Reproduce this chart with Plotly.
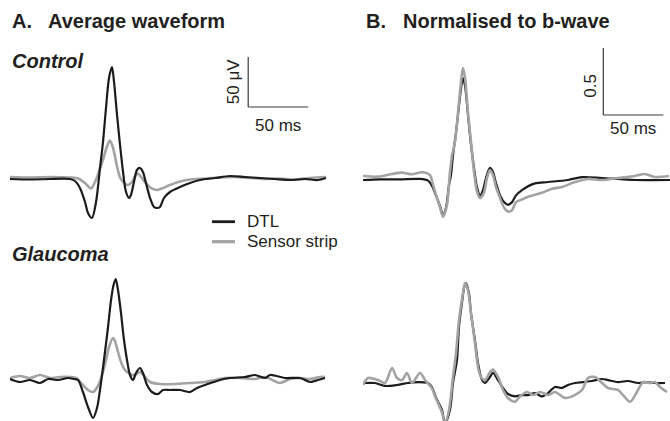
import plotly.graph_objects as go

# ---------------- data (time in ms, amplitude in µV for A, normalised for B) ----------------
# Panel A, Control
a_ctl_dtl_t = [0, 16.7, 33.3, 50, 54.2, 58.3, 62.5, 65, 68.3, 71.7, 75, 77.5, 80, 82.5, 85, 86.7, 89.2, 91.7, 94.2,
               96.7, 99.2, 100.8, 103.3, 105.8, 108.3, 110.8, 113.3, 116.7, 120, 122.5, 125, 128.3, 133.3, 141.7,
               150, 158.3, 170.8, 183.3, 195.8, 208.3, 220.8, 233.3, 245.8, 256.7, 263.3]
a_ctl_dtl_v = [-0.5, -1, -0.5, -0.5, -2.5, -9.5, -23.5, -34.5, -39.5, -23.5, 10.5, 36.5, 70.5, 100.5, 111.5, 96.5,
               63.5, 33.5, 6.5, -13.5, -19.5, -16.5, -3.5, 8.5, 10.5, 6.5, -4.5, -19.5, -28.5, -29.5, -28.5, -19.5,
               -13.5, -8.5, -4.5, -1.5, 0.5, 2.5, 1.5, 0.5, -0.5, -1.5, -0.5, -1.5, 0.5]
a_ctl_ss_t = [0, 16.7, 33.3, 50, 56.7, 62.5, 67.5, 71.7, 75, 78.3, 80.8, 83.3, 85.8, 89.2, 91.7, 95, 98.3, 101.7,
              104.2, 106.7, 109.2, 113.3, 117.5, 122.5, 127.5, 133.3, 141.7, 150, 162.5, 175, 187.5, 200, 212.5,
              225, 237.5, 250, 263.3]
a_ctl_ss_v = [1.5, 1, 1.5, 1, 0, -4.5, -10, -1, 10, 22, 32, 38, 31, 12, 1, -4.5, -6.5, -3.5, 2, 5, 1.5, -4.5, -9.5,
              -11.5, -9.5, -6.5, -3, -1, 0, 1, 1.5, 0.5, -0.5, 0, -1, 0.5, 1.5]

# Panel A, Glaucoma
a_gl_dtl_t = [0, 8.3, 16.7, 25, 31.7, 40, 48.3, 53.3, 56.7, 60.8, 65, 69.2, 72.5, 75, 78.3, 81.7, 84.2, 86.3, 88.1,
              90, 92.5, 95, 97.5, 100, 102.5, 105, 108.3, 110.8, 114.2, 118.3, 123.3, 127.5, 133.3, 141.7, 150,
              155.8, 162.5, 175, 183.3, 195.8, 204.2, 212.5, 216.7, 229.2, 241.7, 250, 256.7, 262.5]
a_gl_dtl_v = [-1, -4, -2, -5, -1, -2, 0, -1, -2, -14, -29, -40, -30, -12, 18, 51, 78, 93, 99, 88, 65, 38, 18, 3, -2,
              5, 10, 5, -7, -14, -16, -12, -12, -12, -14, -10, -7, -2, 0, 1, 3, 0, 3, 0, 0, -4, -2, 0]
a_gl_ss_t = [0, 8.3, 16.7, 25, 33.3, 41.7, 50, 55, 60, 65, 69.2, 73.3, 76.7, 80, 82.5, 85.8, 87.5, 90, 92.5, 95.8,
             100, 104.2, 108.3, 112.5, 116.7, 125, 137.5, 150, 162.5, 170.8, 179.2, 191.7, 204.2, 212.5, 225,
             233.3, 241.7, 250, 258.3, 262.5]
a_gl_ss_v = [0, 2, 0, 3, 0, 1, 1, 0, -6, -12, -14, -8, 3, 18, 31, 40, 37, 26, 16, 8, 4, 3, 6, 1, -4, -6, -6, -5, -4,
             -2, 0, 0, -1, 1, -5, -1, 0, -1, 1, 1]

# Panel B, Control (normalised to b-wave)
b_ctl_dtl_t = [0, 14.2, 30.8, 47.5, 54.2, 57.5, 60.8, 64.2, 66.7, 69.2, 71.7, 73.3, 75, 77.5, 80, 81.7, 83.3, 85,
               87.5, 90, 92.5, 95, 97.5, 100, 102.5, 105.8, 108.3, 110.8, 114.2, 117.5, 120.8, 124.2, 127.5, 132.5,
               143.3, 154.2, 170.8, 182.5, 199.2, 226.7, 255.8]
b_ctl_dtl_v = [-0.015, -0.01, -0.01, -0.007, -0.02, -0.06, -0.13, -0.21, -0.276, -0.22, -0.05, 0.02, 0.17, 0.34,
               0.54, 0.67, 0.746, 0.69, 0.47, 0.25, 0.075, -0.07, -0.13, -0.09, 0, 0.075, 0.045, -0.037, -0.13,
               -0.18, -0.2, -0.18, -0.13, -0.09, -0.04, -0.03, -0.015, 0.007, 0, -0.015, -0.015]
b_ctl_ss_t = [0, 12.5, 24.2, 32.5, 40.8, 49.2, 55.8, 58.3, 61.7, 64.2, 66.7, 70, 72.5, 74.2, 76.7, 79.2, 81.7, 83.3,
              85, 87.5, 90, 92.5, 95, 97.5, 100.8, 103.3, 105.8, 108.3, 110.8, 114.2, 117.5, 120.8, 124.2, 127.5,
              132.5, 137.5, 149.2, 157.5, 165.8, 176.7, 187.5, 199.2, 212.5, 226.7, 235, 243.3, 255]
b_ctl_ss_v = [0.017, 0.01, 0.03, 0.04, 0.028, 0.043, 0.022, -0.05, -0.15, -0.22, -0.29, -0.2, 0.045, 0.17, 0.27,
              0.49, 0.72, 0.82, 0.75, 0.49, 0.27, 0.045, -0.1, -0.15, -0.11, 0, 0.06, 0.022, -0.067, -0.15, -0.22,
              -0.25, -0.24, -0.18, -0.16, -0.14, -0.11, -0.08, -0.067, -0.03, -0.007, -0.015, 0, 0.015, 0.03, 0.007,
              0.015]

# Panel B, Glaucoma
b_gl_dtl_t = [0, 10, 18.3, 28.3, 37.5, 45.8, 54.2, 57.5, 60, 62.5, 65.8, 68.3, 72.5, 75, 78.3, 80, 82.5, 84.2, 85.8,
              88.3, 90, 93.3, 95.8, 99.2, 101.7, 105.8, 108.3, 112.5, 116.7, 120.8, 126.7, 132.5, 137.5, 143.3,
              149.2, 154.2, 160, 165.8, 170.8, 176.7, 183.3, 190.8, 199.2, 204.2, 212.5, 220.8, 229.2, 236.7,
              243.3, 251.7]
b_gl_dtl_v = [0, 0, -0.022, -0.015, 0, 0.007, 0, -0.03, -0.09, -0.14, -0.2, -0.3, -0.2, 0, 0.17, 0.42, 0.6, 0.71,
              0.746, 0.67, 0.52, 0.32, 0.15, 0.022, 0, 0.045, 0.075, 0.022, -0.037, -0.082, -0.1, -0.09, -0.09,
              -0.075, -0.1, -0.075, -0.03, -0.037, -0.015, 0, 0.007, 0.015, 0.03, 0.022, 0.007, 0.015, 0, 0.007, 0, 0]
b_gl_ss_t = [0, 4.2, 12.5, 18.3, 24.2, 28.3, 32.5, 36.7, 40.8, 47.5, 51.7, 57.5, 60, 62.5, 65.8, 68.3, 71.7, 75,
             77.5, 80, 83.3, 85, 87.5, 90, 93.3, 95.8, 98.3, 101.7, 105.8, 108.3, 112.5, 116.7, 120.8, 126.7, 130.8,
             136.7, 141.7, 147.5, 154.2, 160, 168.3, 174.2, 182.5, 187.5, 193.3, 199.2, 204.2, 212.5, 216.7, 222.5,
             228.3, 233.3, 239.2, 243.3, 247.5, 253.3]
b_gl_ss_v = [-0.015, 0.037, 0.022, 0, 0.112, 0.037, 0.022, 0.075, 0, 0.075, 0.022, -0.04, -0.1, -0.15, -0.22, -0.3,
             -0.2, 0.045, 0.22, 0.47, 0.67, 0.746, 0.69, 0.52, 0.3, 0.12, 0.045, 0.022, 0.082, 0.1, 0.045, -0.052,
             -0.112, -0.14, -0.1, -0.067, -0.09, -0.067, -0.09, -0.067, -0.112, -0.1, -0.052, 0.037, 0.045, 0,
             -0.037, -0.052, -0.09, -0.14, -0.067, 0.007, 0, 0.007, -0.03, -0.067]

series_names = ["DTL", "Sensor strip"]
panel_titles = ["A.", "Average waveform", "B.", "Normalised to b-wave"]
group_labels = ["Control", "Glaucoma"]
scale_a_labels = ["50 μV", "50 ms"]
scale_b_labels = ["0.5", "50 ms"]

# ---------------- styling ----------------
W, H = 670, 421
BLACK = "#1c1c1c"
GREY = "#a3a3a3"
TXT = "#231f20"
FONT = "Liberation Sans, Arial, sans-serif"
COLORS = [BLACK, GREY]
WIDTHS = [2.2, 2.6]


def px(x):
    return x / W


def py(y):
    return 1 - y / H


fig = go.Figure()

def add(ax, t, v, k):
    fig.add_trace(go.Scatter(
        x=t, y=v, mode="lines", name=series_names[k], xaxis="x" + ax, yaxis="y" + ax,
        line=dict(color=COLORS[k], width=WIDTHS[k], shape="spline", smoothing=0.8),
        showlegend=False, hoverinfo="skip"))

# Panel A: black on top
add("", a_ctl_ss_t, a_ctl_ss_v, 1)
add("", a_ctl_dtl_t, a_ctl_dtl_v, 0)
add("3", a_gl_ss_t, a_gl_ss_v, 1)
add("3", a_gl_dtl_t, a_gl_dtl_v, 0)
# Panel B: grey on top
add("2", b_ctl_dtl_t, b_ctl_dtl_v, 0)
add("2", b_ctl_ss_t, b_ctl_ss_v, 1)
add("4", b_gl_dtl_t, b_gl_dtl_v, 0)
add("4", b_gl_ss_t, b_gl_ss_v, 1)

PXMS = 1.2  # pixels per ms
A_UV = 1.0  # pixels per µV
B_UNIT = 134.0  # pixels per normalised unit

def xax(x0):
    right = W if x0 > 300 else 333
    return dict(domain=[px(x0), px(right)], range=[0, (right - x0) / PXMS], visible=False, fixedrange=True)

def yax(top, bottom, base, scale):
    return dict(domain=[py(bottom), py(top)], range=[(base - bottom) / scale, (base - top) / scale],
                visible=False, fixedrange=True)

fig.update_layout(
    width=W, height=H, margin=dict(l=0, r=0, t=0, b=0),
    paper_bgcolor="white", plot_bgcolor="rgba(0,0,0,0)",
    xaxis=xax(10), yaxis=yax(48, 224, 178.5, A_UV),
    xaxis2=dict(xax(363), anchor="y2"), yaxis2=dict(yax(45, 224, 178, B_UNIT), anchor="x2"),
    xaxis3=dict(xax(10), anchor="y3"), yaxis3=dict(yax(262, 421, 378, A_UV), anchor="x3"),
    xaxis4=dict(xax(363), anchor="y4"), yaxis4=dict(yax(262, 421, 383, B_UNIT), anchor="x4"),
    showlegend=False,
    font=dict(family=FONT, color=TXT),
)

# scale bars (in data units)
bar_col = "#3a3a3a"
ta = 198.5
va = 71.5
fig.add_shape(type="line", xref="x", yref="y", x0=ta, x1=ta, y0=va, y1=va + 50, line=dict(color=bar_col, width=1.2))
fig.add_shape(type="line", xref="x", yref="y", x0=ta, x1=ta + 50, y0=va, y1=va, line=dict(color=bar_col, width=1.2))
fig.add_annotation(xref="x", yref="y", x=ta - 12.5, y=va + 25, text=scale_a_labels[0], textangle=-90,
                   showarrow=False, font=dict(size=17, color=TXT), xanchor="center", yanchor="middle")
fig.add_annotation(xref="x", yref="y", x=ta + 25, y=va - 18, text=scale_a_labels[1],
                   showarrow=False, font=dict(size=17, color=TXT), xanchor="center", yanchor="middle")

tb = 200.25
vb = 0.47
fig.add_shape(type="line", xref="x2", yref="y2", x0=tb, x1=tb, y0=vb, y1=vb + 0.5, line=dict(color=bar_col, width=1.2))
fig.add_shape(type="line", xref="x2", yref="y2", x0=tb, x1=tb + 50, y0=vb, y1=vb, line=dict(color=bar_col, width=1.2))
fig.add_annotation(xref="x2", yref="y2", x=tb - 11, y=vb + 0.22, text=scale_b_labels[0], textangle=-90,
                   showarrow=False, font=dict(size=17, color=TXT), xanchor="center", yanchor="middle")
fig.add_annotation(xref="x2", yref="y2", x=tb + 25, y=vb - 0.1, text=scale_b_labels[1],
                   showarrow=False, font=dict(size=17, color=TXT), xanchor="center", yanchor="middle")

# legend (keys drawn as short line segments)
for k, yy in enumerate([221.7, 241.7]):
    fig.add_shape(type="line", xref="paper", yref="paper", x0=px(212), x1=px(235), y0=py(yy), y1=py(yy),
                  line=dict(color=COLORS[k], width=WIDTHS[k] + 0.6))
    fig.add_annotation(xref="paper", yref="paper", x=px(245), y=py(yy), text=series_names[k], showarrow=False,
                       xanchor="left", yanchor="middle", font=dict(size=17, color=TXT, family=FONT))

def label(x, y, text, size, bold=True, italic=False):
    t = text
    if bold:
        t = "<b>" + t + "</b>"
    if italic:
        t = "<i>" + t + "</i>"
    fig.add_annotation(xref="paper", yref="paper", x=px(x), y=py(y), text=t, showarrow=False,
                       xanchor="left", yanchor="middle", font=dict(size=size, color=TXT, family=FONT))

label(10, 21, panel_titles[0], 20)
label(46, 21, panel_titles[1], 20)
label(364, 21, panel_titles[2], 20)
label(401, 21, panel_titles[3], 20)
label(10, 61, group_labels[0], 20, italic=True)
label(10, 254, group_labels[1], 20, italic=True)

fig.write_html("out.html", config={"displayModeBar": False},
               post_script="document.body.style.margin='0';document.body.style.overflow='hidden';")
